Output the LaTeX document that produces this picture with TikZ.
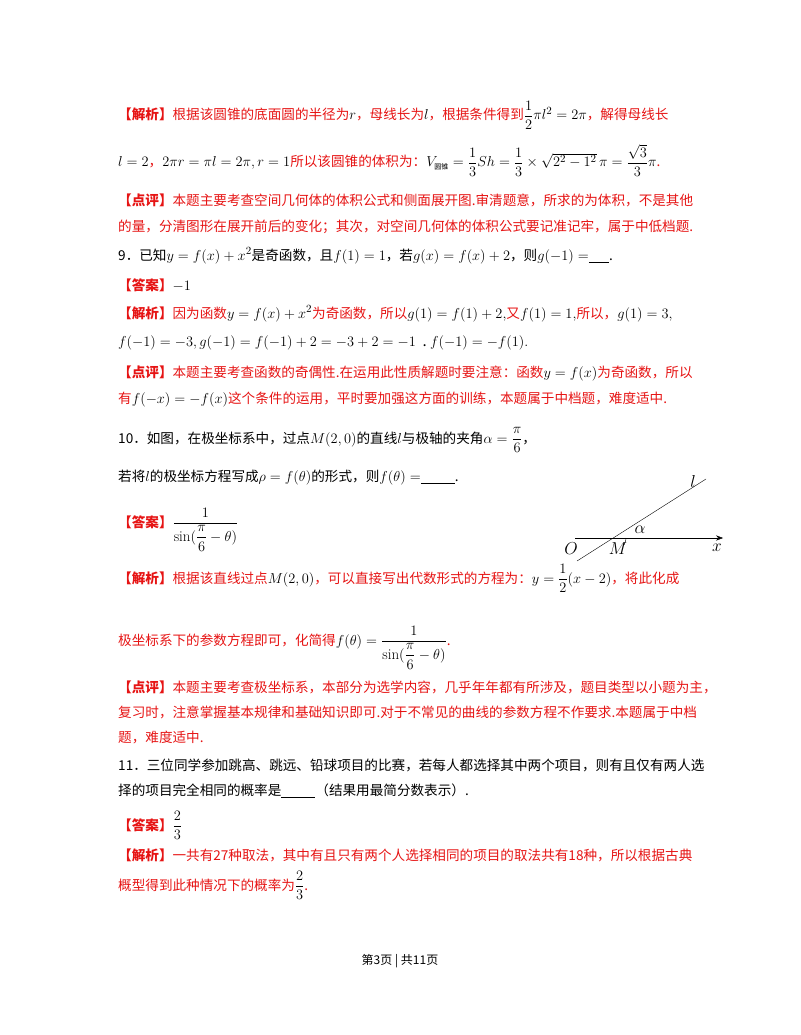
\documentclass[tikz,border=0pt]{standalone}
\usepackage{fontspec}
\usepackage{amsmath}
\usetikzlibrary{arrows.meta}
\newfontfamily\cjk{Noto Sans CJK SC}
\definecolor{rd}{RGB}{230,20,20}
\begin{document}
\begin{tikzpicture}[x=1pt,y=-1pt,
  rl/.style={anchor=base west,inner sep=0pt,font=\cjk\fontsize{13.6}{15}\selectfont,text=rd},
  bl/.style={anchor=base west,inner sep=0pt,font=\cjk\fontsize{13.6}{15}\selectfont,text=black}]
\useasboundingbox (0,0) rectangle (800,1035);
\newcommand\tg[1]{\textbf{【#1】}}
\newcommand\bk[1]{{\fontsize{15}{17}\selectfont\textcolor{black}{#1}}}
\newcommand\mm[1]{{\fontsize{15}{17}\selectfont #1}}
\node[rl] (a1) at (118,120) {\tg{解析}根据该圆锥的底面圆的半径为\bk{$r$}，母线长为\bk{$l$}，根据条件得到\bk{$\dfrac12\pi l^2=2\pi$}，解得母线长};
\node[rl] (a2) at (118,167) {\bk{$l=2$}，\bk{$2\pi r=\pi l=2\pi,r=1$}所以该圆锥的体积为：\bk{$V_{\text{\cjk\scriptsize 圆锥}}=\dfrac13Sh=\dfrac13\times\sqrt{2^2-1^2}\,\pi=\dfrac{\sqrt3}{3}\pi$}.};
\node[rl] (a3) at (118,205) {\tg{点评}本题主要考查空间几何体的体积公式和侧面展开图.审清题意，所求的为体积，不是其他};
\node[rl] (a4) at (118,231) {的量，分清图形在展开前后的变化；其次，对空间几何体的体积公式要记准记牢，属于中低档题.};
\node[bl] (q9) at (118,260) {9．已知\mm{$y=f(x)+x^2$}是奇函数，且\mm{$f(1)=1$}，若\mm{$g(x)=f(x)+2$}，则\mm{$g(-1)=$}\underline{\hspace{1.5em}}.};
\node[rl] (b1) at (118,290) {\tg{答案}\bk{$-1$}};
\node[rl] (b2) at (118,318) {\tg{解析}因为函数\bk{$y=f(x)+x^2$}为奇函数，所以\bk{$g(1)=f(1)+2,$}又\bk{$f(1)=1,$}所以，\bk{$g(1)=3,$}};
\node[rl] (b3) at (118,346) {\bk{$f(-1)=-3,g(-1)=f(-1)+2=-3+2=-1$\ \ .\ $f(-1)=-f(1).$}};
\node[rl] (b4) at (118,377) {\tg{点评}本题主要考查函数的奇偶性.在运用此性质解题时要注意：函数\bk{$y=f(x)$}为奇函数，所以};
\node[rl] (b5) at (118,403) {有\bk{$f(-x)=-f(x)$}这个条件的运用，平时要加强这方面的训练，本题属于中档题，难度适中.};
\node[bl] (q10) at (118,443) {10．如图，在极坐标系中，过点\mm{$M(2,0)$}的直线\mm{$l$}与极轴的夹角\mm{$\alpha=\dfrac{\pi}{6}$}，};
\node[bl] (q10b) at (118,481) {若将\mm{$l$}的极坐标方程写成\mm{$\rho=f(\theta)$}的形式，则\mm{$f(\theta)=$}\underline{\hspace{2.5em}}.};
\node[rl] (c1) at (118,527) {\tg{答案}\bk{$\dfrac{1}{\sin(\dfrac{\pi}{6}-\theta)}$}};
\node[rl] (c2) at (118,583) {\tg{解析}根据该直线过点\bk{$M(2,0)$}，可以直接写出代数形式的方程为：\bk{$y=\dfrac12(x-2)$}，将此化成};
\node[rl] (c3) at (118,645) {极坐标系下的参数方程即可，化简得\bk{$f(\theta)=\dfrac{1}{\sin(\dfrac{\pi}{6}-\theta)}$}.};
\node[rl] (c4) at (118,692) {\tg{点评}本题主要考查极坐标系，本部分为选学内容，几乎年年都有所涉及，题目类型以小题为主，};
\node[rl] (c5) at (118,717) {复习时，注意掌握基本规律和基础知识即可.对于不常见的曲线的参数方程不作要求.本题属于中档};
\node[rl] (c6) at (118,742) {题，难度适中.};
\node[bl] (q11) at (118,770) {11．三位同学参加跳高、跳远、铅球项目的比赛，若每人都选择其中两个项目，则有且仅有两人选};
\node[bl] (q11b) at (118,795) {择的项目完全相同的概率是\underline{\hspace{2.5em}}（结果用最简分数表示）.};
\node[rl] (d1) at (118,830) {\tg{答案}\bk{$\dfrac23$}};
\node[rl] (d2) at (118,860) {\tg{解析}一共有27种取法，其中有且只有两个人选择相同的项目的取法共有18种，所以根据古典};
\node[rl] (d3) at (118,890) {概型得到此种情况下的概率为\bk{$\dfrac23$}.};
\node[anchor=base,inner sep=0pt,font=\cjk\fontsize{12}{14}\selectfont] (pg) at (400,964) {第3页 | 共11页};
% figure
\coordinate (xs) at (575,538); \coordinate (xe) at (723,538);
\coordinate (ls) at (577,561); \coordinate (le) at (706,479);
\draw[-{Stealth[length=7pt]}] (xs) -- (xe);
\draw (ls) -- (le);
\draw (626,538) arc[start angle=0,end angle=32,radius=13];
\node[font=\fontsize{16}{18}\selectfont] (O) at (571,549) {$O$};
\node[font=\fontsize{16}{18}\selectfont] (M) at (618,549) {$M$};
\node[font=\fontsize{16}{18}\selectfont] (X) at (717,548) {$x$};
\node[font=\fontsize{16}{18}\selectfont] (L) at (693,481) {$l$};
\node[font=\fontsize{16}{18}\selectfont] (A) at (640,530) {$\alpha$};
\end{tikzpicture}
\end{document}
